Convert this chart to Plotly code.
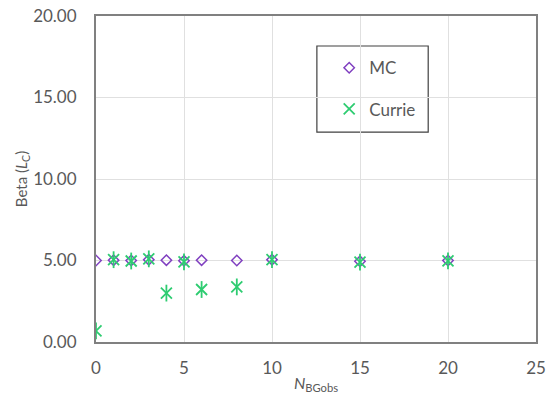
import plotly.graph_objects as go

x_mc = [0, 1, 2, 3, 4, 5, 6, 8, 10, 15, 20]
y_mc = [5.0, 5.02, 5.0, 5.05, 5.02, 4.98, 5.02, 5.0, 5.05, 4.95, 5.0]
x_currie = [0, 1, 2, 3, 4, 5, 6, 8, 10, 15, 20]
y_currie = [0.68, 5.05, 4.97, 5.1, 3.0, 4.92, 3.22, 3.38, 5.05, 4.9, 4.98]

purple = "#8040C0"
green = "#2ECC71"
grey = "#595959"
font = "Lato"
fs = 17

fig = go.Figure()
fig.add_trace(go.Scatter(x=x_mc, y=y_mc, mode="markers", name="MC", legendgroup="a",
                         marker=dict(symbol="diamond-open", size=8, color=purple, line=dict(width=1.5, color=purple))))
fig.add_trace(go.Scatter(x=x_currie, y=y_currie, mode="markers", name="Currie", legendgroup="b",
                         marker=dict(symbol="x-thin-open", size=11, color=green, line=dict(width=1.8, color=green))))
fig.add_trace(go.Scatter(x=x_currie, y=y_currie, mode="markers", name="Currie", showlegend=False, legendgroup="b",
                         marker=dict(symbol="line-ns-open", size=12, color=green, line=dict(width=1.8, color=green))))

# legend frame
fig.add_shape(type="rect", xref="paper", yref="paper", x0=0.502, x1=0.755, y0=0.644, y1=0.908,
              line=dict(color="#404040", width=1.2), fillcolor="white", layer="below")

fig.update_layout(
    width=548, height=394,
    margin=dict(l=96, r=12, t=16, b=52, autoexpand=False),
    paper_bgcolor="white", plot_bgcolor="rgba(0,0,0,0)",
    font=dict(family=font, size=fs, color=grey),
    showlegend=True,
    legend=dict(x=0.530, y=0.895, xanchor="left", yanchor="top",
                borderwidth=0, bgcolor="rgba(0,0,0,0)",
                font=dict(family=font, size=fs, color=grey),
                tracegroupgap=16, itemwidth=30),
)
fig.update_xaxes(range=[0, 25], tickvals=[0, 5, 10, 15, 20, 25], showgrid=True, gridcolor="#E0E0E0", gridwidth=1,
                 showline=True, linecolor="#808080", linewidth=2, mirror=True, zeroline=False, automargin=False,
                 ticks="", tickfont=dict(family=font, size=fs, color=grey), ticklabelstandoff=10,
                 title=dict(text="<i>N</i><sub>BGobs</sub>", font=dict(family=font, size=16, color=grey), standoff=0))
fig.update_yaxes(range=[0, 20], tickvals=[0, 5, 10, 15, 20], tickformat=".2f", showgrid=True, gridcolor="#E0E0E0", gridwidth=1,
                 showline=True, linecolor="#808080", linewidth=2, mirror=True, zeroline=False, automargin=False,
                 ticks="", tickfont=dict(family=font, size=fs, color=grey), ticklabelstandoff=14,
                 title=dict(text="Beta (<i>L</i><sub>C</sub>)", font=dict(family=font, size=15, color=grey), standoff=2))

fig.write_html("out.html")
